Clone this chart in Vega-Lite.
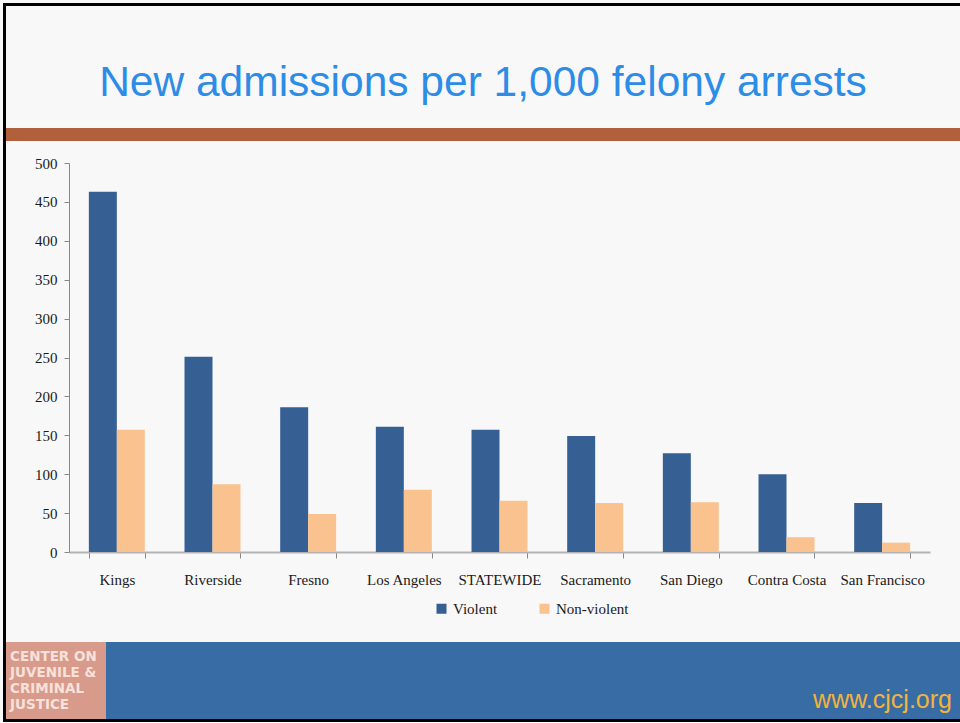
{
  "$schema": "https://vega.github.io/schema/vega-lite/v6.json",
  "background": "#f8f8f8",
  "padding": {"top": 3, "left": 3, "right": 0, "bottom": 0},
  "config": {"view": {"stroke": null}},
  "spacing": 0,
  "hconcat": [
    {
      "width": 3,
      "height": 719,
      "view": {"fill": "#000000", "stroke": null},
      "data": {"values": [{}]},
      "mark": {"type": "text", "text": "", "fontSize": 0},
      "encoding": {}
    },
    {
      "spacing": 56,
      "vconcat": [
        {
          "width": 954,
          "height": 3,
          "view": {"fill": "#000000", "stroke": null},
          "data": {"values": [{}]},
          "mark": {"type": "text", "text": "", "fontSize": 0},
          "encoding": {}
        },
        {
          "spacing": 15,
          "vconcat": [
            {
              "width": 954,
              "height": 13,
              "view": {"fill": "#b2603b", "stroke": null},
              "title": {"text": "New admissions per 1,000 felony arrests", "fontSize": 42.5, "font": "Liberation Sans", "fontWeight": "normal", "color": "#2d8ce6", "offset": 23.5, "anchor": "middle"},
              "data": {"values": [{}]},
              "mark": {"type": "text", "text": "", "fontSize": 0},
              "encoding": {}
            },
            {
              "spacing": 55,
              "vconcat": [
                {
                  "width": 924,
                  "height": 389,
                  "data": {
                    "values": [
                      {"county": "Kings", "type": "Violent", "value": 463},
                      {"county": "Kings", "type": "Non-violent", "value": 157},
                      {"county": "Riverside", "type": "Violent", "value": 251},
                      {"county": "Riverside", "type": "Non-violent", "value": 87},
                      {"county": "Fresno", "type": "Violent", "value": 186},
                      {"county": "Fresno", "type": "Non-violent", "value": 49},
                      {"county": "Los Angeles", "type": "Violent", "value": 161},
                      {"county": "Los Angeles", "type": "Non-violent", "value": 80},
                      {"county": "STATEWIDE", "type": "Violent", "value": 157},
                      {"county": "STATEWIDE", "type": "Non-violent", "value": 66},
                      {"county": "Sacramento", "type": "Violent", "value": 149},
                      {"county": "Sacramento", "type": "Non-violent", "value": 63},
                      {"county": "San Diego", "type": "Violent", "value": 127},
                      {"county": "San Diego", "type": "Non-violent", "value": 64},
                      {"county": "Contra Costa", "type": "Violent", "value": 100},
                      {"county": "Contra Costa", "type": "Non-violent", "value": 19},
                      {"county": "San Francisco", "type": "Violent", "value": 63},
                      {"county": "San Francisco", "type": "Non-violent", "value": 12}
                    ]
                  },
                  "mark": {"type": "bar"},
                  "encoding": {
                    "x": {
                      "field": "county", "type": "nominal",
                      "sort": ["Kings", "Riverside", "Fresno", "Los Angeles", "STATEWIDE", "Sacramento", "San Diego", "Contra Costa", "San Francisco"],
                      "scale": {"range": [63, 924], "paddingInner": 0.415, "paddingOuter": 0.2075},
                      "axis": {"title": null, "labelAngle": 0, "labelFont": "Liberation Serif", "labelFontSize": 15, "labelColor": "#1a1a1a", "labelPadding": 14, "domainColor": "#b3b3b3", "domainWidth": 2, "tickColor": "#888888", "tickSize": 6, "tickBand": "extent", "grid": false}
                    },
                    "xOffset": {"field": "type", "type": "nominal", "sort": ["Violent", "Non-violent"], "scale": {"padding": 0}},
                    "y": {
                      "field": "value", "type": "quantitative",
                      "scale": {"domain": [0, 500], "nice": false},
                      "axis": {"title": null, "offset": -63, "values": [0, 50, 100, 150, 200, 250, 300, 350, 400, 450, 500], "labelFont": "Liberation Serif", "labelFontSize": 15, "labelColor": "#1a1a1a", "domainColor": "#888888", "tickColor": "#888888", "tickSize": 5, "labelPadding": 7, "grid": false, "minExtent": 0}
                    },
                    "color": {
                      "field": "type", "type": "nominal",
                      "scale": {"domain": ["Violent", "Non-violent"], "range": ["#365f93", "#f9c28f"]},
                      "legend": {"title": null, "orient": "none", "legendX": 420, "legendY": 587, "direction": "horizontal", "symbolType": "square", "symbolSize": 100, "symbolStrokeWidth": 0, "labelFont": "Liberation Serif", "labelFontSize": 15, "labelColor": "#1a1a1a", "columnPadding": 39, "labelOffset": 4, "padding": 11}
                    }
                  }
                },
                {
                  "spacing": 0,
                  "vconcat": [
                    {
                      "spacing": 0,
                      "hconcat": [
                        {
                          "width": 100,
                          "height": 77,
                          "view": {"fill": "#d89b8b", "stroke": null},
                          "title": {"text": ["CENTER ON", "JUVENILE &", "CRIMINAL", "JUSTICE"], "orient": "bottom", "anchor": "start", "offset": -69, "dx": 4, "fontSize": 13.5, "font": "DejaVu Sans", "fontWeight": "bold", "color": "#f6e2da", "lineHeight": 16, "baseline": "top"},
                          "data": {"values": [{}]},
                          "mark": {"type": "text", "text": "", "fontSize": 0},
                          "encoding": {}
                        },
                        {
                          "width": 854,
                          "height": 77,
                          "view": {"fill": "#386ca4", "stroke": null},
                          "title": {"text": "www.cjcj.org", "orient": "bottom", "anchor": "end", "offset": -31, "dx": -8, "fontSize": 25, "font": "Liberation Sans", "fontWeight": "normal", "color": "#f2b33d", "baseline": "top"},
                          "data": {"values": [{}]},
                          "mark": {"type": "text", "text": "", "fontSize": 0},
                          "encoding": {}
                        }
                      ]
                    },
                    {
                      "width": 954,
                      "height": 3,
                      "view": {"fill": "#000000", "stroke": null},
                      "data": {"values": [{}]},
                      "mark": {"type": "text", "text": "", "fontSize": 0},
                      "encoding": {}
                    }
                  ]
                }
              ]
            }
          ]
        }
      ]
    }
  ]
}
